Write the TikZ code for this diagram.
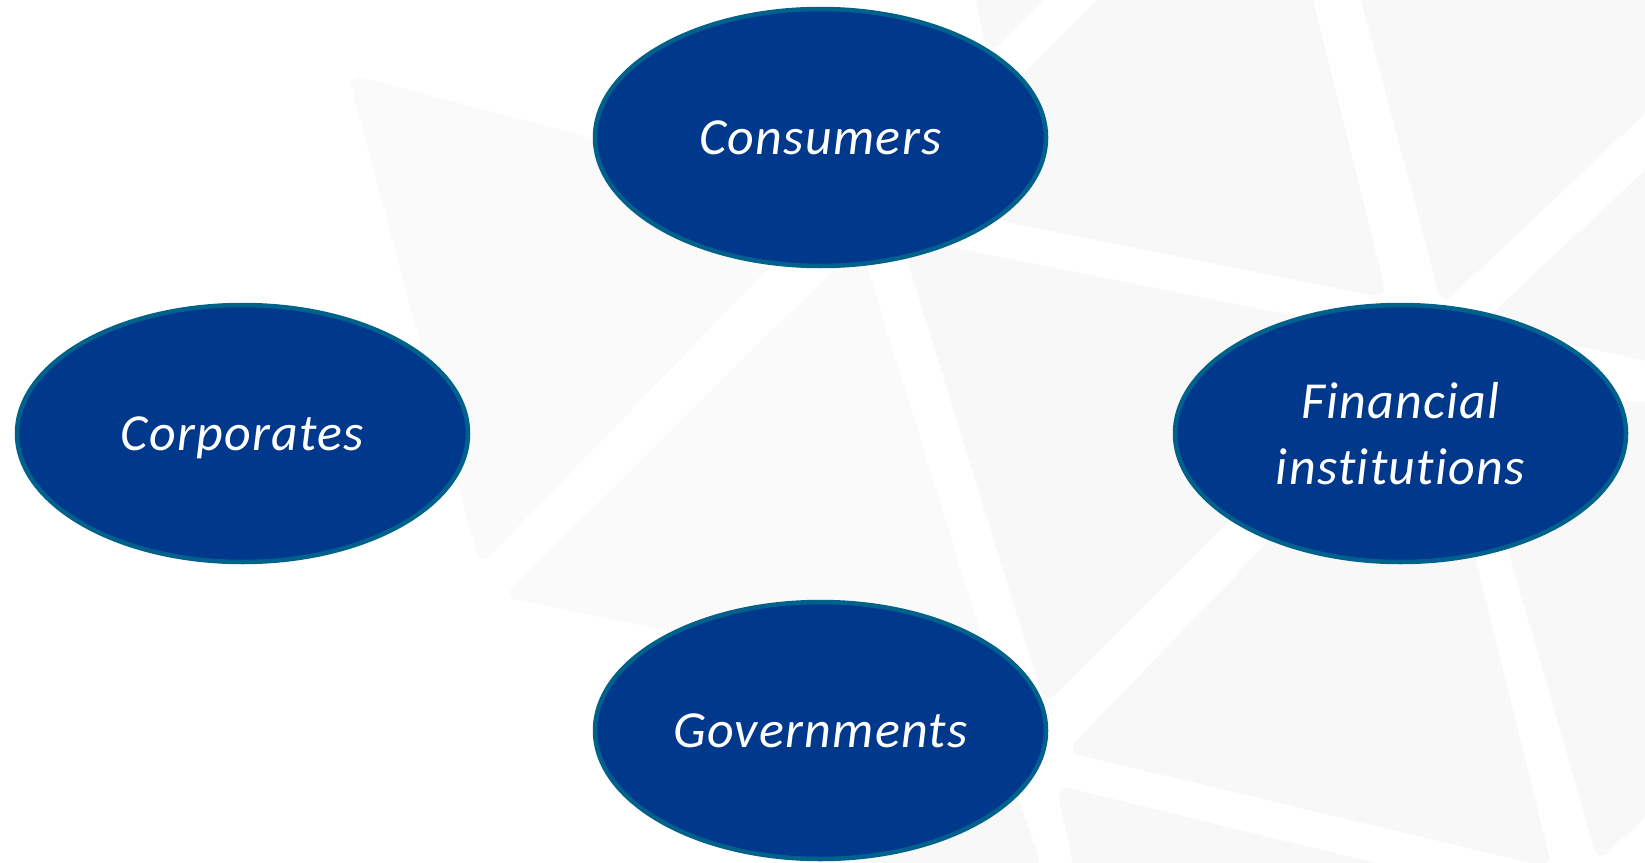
\documentclass[tikz,border=0pt]{standalone}
\usepackage{fontspec}
\setmainfont{Carlito}
\newfontfamily\lblfont[LetterSpace=2.5, Ligatures={NoCommon}]{Carlito}
\usetikzlibrary{shapes.geometric}
\definecolor{bgtri}{HTML}{F8F8F8}
\definecolor{bgtriA}{HTML}{FAFAFA}
\definecolor{ovalfill}{RGB}{0,56,140}
\definecolor{ovalline}{RGB}{0,98,140}
\begin{document}
\begin{tikzpicture}[x=1pt,y=-1pt,
  tri/.style={fill=bgtri, rounded corners=14pt},
  oval/.style={ellipse, draw=ovalline, line width=4.5pt, fill=ovalfill, text=white,
    minimum width=451pt, minimum height=257pt, inner sep=0pt,
    font=\lblfont\itshape\fontsize{52}{66}\selectfont}]
\useasboundingbox[fill=white] (0,0) rectangle (1645,862);
\begin{scope}
\clip (0,0) rectangle (1645,862);
\fill[tri, fill=bgtriA] (348,74) -- (480,566) -- (833,201) -- cycle;
\fill[tri, fill=bgtriA] (503,597) -- (860,244) -- (1001,699) -- cycle;
\fill[tri] (900,237) -- (1411,339) -- (1045,705) -- cycle;
\fill[tri] (897,200) -- (1387,298) -- (1270,-173) -- cycle;
\fill[tri] (962,-60) -- (1103,-60) -- (988,55) -- cycle;
\fill[tri] (1442,305) -- (1760,5) -- (1760,-60) -- (1345,-60) -- cycle;
\fill[tri] (1480,325) -- (1760,62) -- (1760,385) -- cycle;
\fill[tri] (1462,390) -- (1760,410) -- (1760,706) -- (1598,862) -- cycle;
\fill[tri] (1066,752) -- (1430,373) -- (1552,868) -- cycle;
\fill[tri] (1056,785) -- (1560,908) -- (1085,920) -- cycle;
\fill[tri] (820,740) -- (985,700) -- (1043,870) -- (820,870) -- cycle;
\end{scope}
\node[oval] (cons) at (820.5,137.5) {Consumers};
\node[oval, text depth=0pt] (corp) at (242.5,433.5) {Corporates};
\node[oval, align=center] (fin) at (1400.5,433.5) {Financial\\institutions};
\node[oval] (gov) at (820.5,730.5) {Governments};
\end{tikzpicture}
\end{document}
